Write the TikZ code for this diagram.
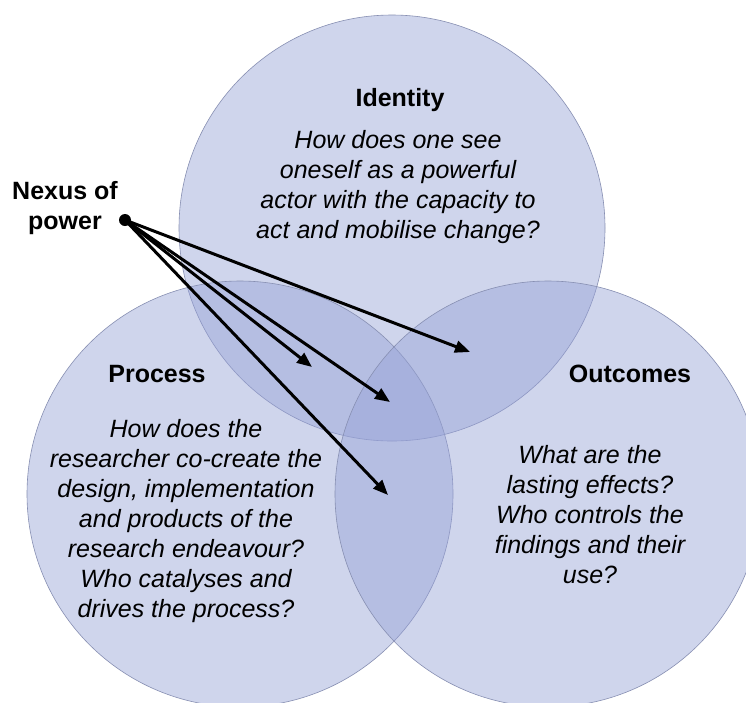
\documentclass[tikz,border=0pt]{standalone}
\usepackage{fontspec}
\setmainfont{Liberation Sans}
\usetikzlibrary{arrows.meta}
\definecolor{vennfill}{RGB}{150,162,215}
\definecolor{vennline}{RGB}{135,143,178}
\begin{document}
\begin{tikzpicture}[x=1pt,y=-1pt,
  venn/.style={circle, minimum size=426pt, inner sep=0pt, fill=vennfill, fill opacity=0.45, draw=vennline, line width=0.6pt},
  title/.style={font=\fontsize{25}{30}\selectfont\bfseries, inner sep=0pt, align=center},
  body/.style={font=\fontsize{25}{30}\selectfont\itshape, inner sep=0pt, align=center},
  arr/.style={line width=3pt, -{Triangle[length=15pt,width=12pt]}}
]
\useasboundingbox (0,0) rectangle (746,702);
\fill[white] (0,0) rectangle (746,702);
\begin{scope}
  \clip (0,0) rectangle (746,702);
  \node[venn] (identity) at (392,228) {};
  \node[venn] (process) at (240,494) {};
  \node[venn] (outcomes) at (548,494) {};
\end{scope}

\node[title] (idtitle) at (400,100) {Identity};
\node[body] (idbody) at (398,187) {How does one see\\oneself as a powerful\\actor with the capacity to\\act and mobilise change?};

\node[title] (prtitle) at (157,374) {Process};
\node[body] (prbody) at (186,521) {How does the\\researcher co-create the\\design, implementation\\and products of the\\research endeavour?\\Who catalyses and\\drives the process?};

\node[title] (outitle) at (630,374) {Outcomes};
\node[body] (oubody) at (590,515) {What are the\\lasting effects?\\Who controls the\\findings and their\\use?};

\node[title] (nexus) at (65,208) {Nexus of\\power};
\node[circle, fill=black, inner sep=0pt, minimum size=12pt] (dot) at (125,220) {};

\coordinate (t1) at (470,352);
\coordinate (t2) at (312,367);
\coordinate (t3) at (390,402);
\coordinate (t4) at (388,495);
\draw[arr] (dot.center) -- (t1);
\draw[arr] (dot.center) -- (t2);
\draw[arr] (dot.center) -- (t3);
\draw[arr] (dot.center) -- (t4);
\end{tikzpicture}
\end{document}
